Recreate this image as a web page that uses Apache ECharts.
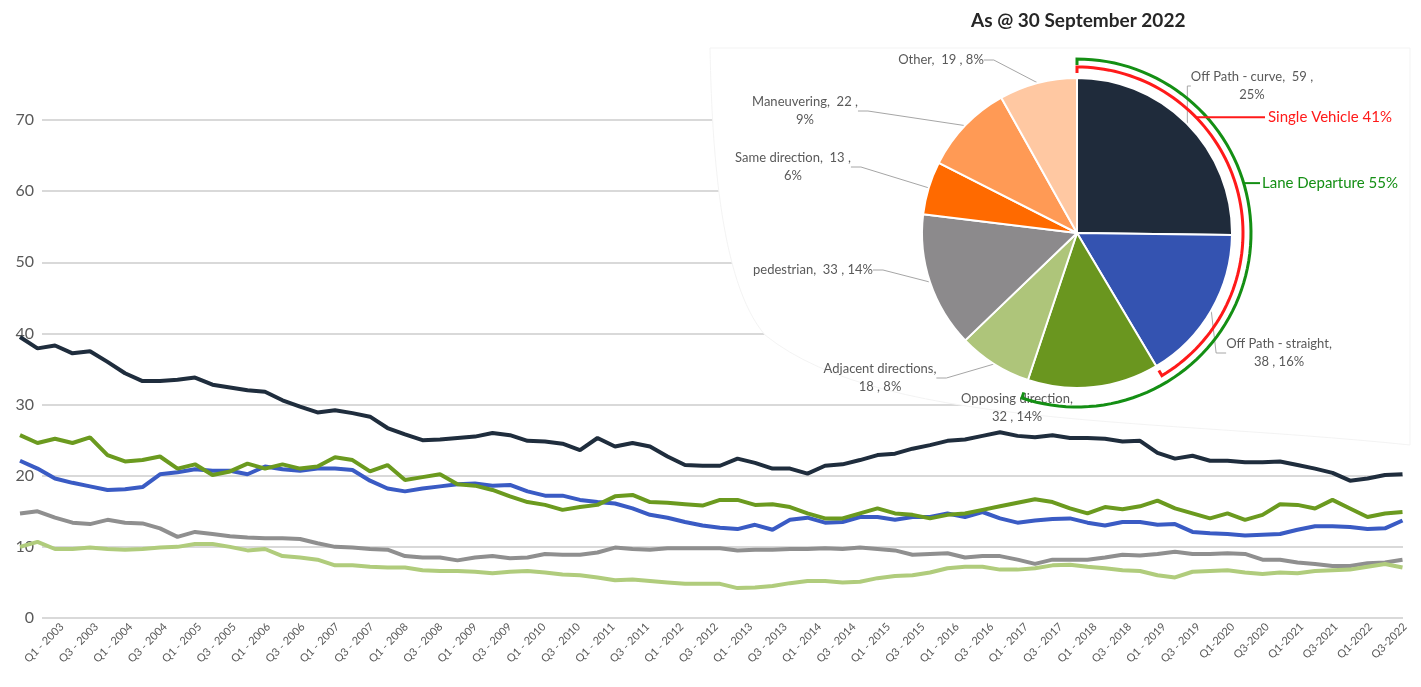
<!DOCTYPE html>
<html>
<head>
<meta charset="utf-8">
<title>Fatalities by crash type</title>
<script src="https://cdn.jsdelivr.net/npm/echarts@6/dist/echarts.min.js"></script>
<style>
    html, body { margin: 0; padding: 0; background: #fff; }
    #container { width: 1421px; height: 687px; }
</style>
</head>
<body>
<div id="container"></div>
<script>
// quarterly points, Q4 2002 .. Q3 2022
var quarters = [];
for (var q = 0; q < 80; q++) {
    var k = q + 3; // Q4 2002 is the first one
    quarters.push('Q' + (k % 4 + 1) + ' - ' + (2002 + Math.floor(k / 4)));
}

var tickLabels = [
    'Q1 - 2003', 'Q3 - 2003', 'Q1 - 2004', 'Q3 - 2004', 'Q1 - 2005', 'Q3 - 2005',
    'Q1 - 2006', 'Q3 - 2006', 'Q1 - 2007', 'Q3 - 2007', 'Q1 - 2008', 'Q3 - 2008',
    'Q1 - 2009', 'Q3 - 2009', 'Q1 - 2010', 'Q3 - 2010', 'Q1 - 2011', 'Q3 - 2011',
    'Q1 - 2012', 'Q3 - 2012', 'Q1 - 2013', 'Q3 - 2013', 'Q1 - 2014', 'Q3 - 2014',
    'Q1 - 2015', 'Q3 - 2015', 'Q1 - 2016', 'Q3 - 2016', 'Q1 - 2017', 'Q3 - 2017',
    'Q1 - 2018', 'Q3 - 2018', 'Q1 - 2019', 'Q3 - 2019', 'Q1-2020', 'Q3-2020',
    'Q1-2021', 'Q3-2021', 'Q1-2022', 'Q3-2022'
];

var offPathCurve = [
    39.5, 37.9, 38.3, 37.2, 37.5, 36.0, 34.4, 33.3, 33.3, 33.5,
    33.8, 32.8, 32.4, 32.0, 31.8, 30.6, 29.7, 28.9, 29.2, 28.8,
    28.3, 26.7, 25.8, 25.0, 25.1, 25.3, 25.5, 26.0, 25.7, 24.9,
    24.8, 24.5, 23.6, 25.3, 24.1, 24.6, 24.1, 22.7, 21.5, 21.4,
    21.4, 22.4, 21.8, 21.0, 21.0, 20.3, 21.4, 21.6, 22.2, 22.9,
    23.1, 23.8, 24.3, 24.9, 25.1, 25.6, 26.1, 25.6, 25.4, 25.7,
    25.3, 25.3, 25.2, 24.8, 24.9, 23.2, 22.4, 22.8, 22.1, 22.1,
    21.9, 21.9, 22.0, 21.5, 21.0, 20.4, 19.3, 19.6, 20.1, 20.2
];
var offPathStraight = [
    22.1, 21.0, 19.6, 19.0, 18.5, 18.0, 18.1, 18.4, 20.2, 20.5,
    20.9, 20.7, 20.7, 20.2, 21.3, 20.9, 20.7, 21.0, 21.0, 20.8,
    19.3, 18.2, 17.8, 18.2, 18.5, 18.8, 18.9, 18.6, 18.7, 17.8,
    17.2, 17.2, 16.6, 16.3, 16.1, 15.4, 14.5, 14.1, 13.5, 13.0,
    12.7, 12.5, 13.1, 12.4, 13.8, 14.1, 13.4, 13.5, 14.2, 14.2,
    13.8, 14.2, 14.2, 14.7, 14.2, 14.9, 14.0, 13.4, 13.7, 13.9,
    14.0, 13.4, 13.0, 13.5, 13.5, 13.1, 13.2, 12.1, 11.9, 11.8,
    11.6, 11.7, 11.8, 12.4, 12.9, 12.9, 12.8, 12.5, 12.6, 13.7
];
var opposing = [
    25.7, 24.6, 25.2, 24.6, 25.4, 22.9, 22.0, 22.2, 22.7, 21.0,
    21.6, 20.1, 20.6, 21.7, 21.0, 21.6, 21.0, 21.3, 22.6, 22.2,
    20.6, 21.5, 19.4, 19.8, 20.2, 18.8, 18.6, 18.0, 17.1, 16.3,
    15.9, 15.2, 15.6, 15.9, 17.1, 17.3, 16.3, 16.2, 16.0, 15.8,
    16.6, 16.6, 15.9, 16.0, 15.6, 14.7, 14.0, 14.0, 14.7, 15.4,
    14.7, 14.5, 14.0, 14.5, 14.7, 15.2, 15.7, 16.2, 16.7, 16.3,
    15.4, 14.7, 15.6, 15.3, 15.7, 16.5, 15.4, 14.7, 14.0, 14.7,
    13.8, 14.5, 16.0, 15.9, 15.4, 16.6, 15.4, 14.2, 14.7, 14.9
];
var pedestrian = [
    14.7, 15.0, 14.1, 13.4, 13.2, 13.8, 13.4, 13.3, 12.6, 11.4,
    12.1, 11.8, 11.5, 11.3, 11.2, 11.2, 11.1, 10.5, 10.0, 9.9,
    9.7, 9.6, 8.7, 8.5, 8.5, 8.1, 8.5, 8.7, 8.4, 8.5,
    9.0, 8.9, 8.9, 9.2, 9.9, 9.7, 9.6, 9.8, 9.8, 9.8,
    9.8, 9.5, 9.6, 9.6, 9.7, 9.7, 9.8, 9.7, 9.9, 9.7,
    9.5, 8.9, 9.0, 9.1, 8.5, 8.7, 8.7, 8.2, 7.6, 8.2,
    8.2, 8.2, 8.5, 8.9, 8.8, 9.0, 9.3, 9.0, 9.0, 9.1,
    9.0, 8.2, 8.2, 7.8, 7.6, 7.3, 7.3, 7.7, 7.8, 8.2
];
var adjacent = [
    10.0, 10.7, 9.7, 9.7, 9.9, 9.7, 9.6, 9.7, 9.9, 10.0,
    10.4, 10.4, 10.0, 9.5, 9.7, 8.7, 8.5, 8.2, 7.4, 7.4,
    7.2, 7.1, 7.1, 6.7, 6.6, 6.6, 6.5, 6.3, 6.5, 6.6,
    6.4, 6.1, 6.0, 5.7, 5.3, 5.4, 5.2, 5.0, 4.8, 4.8,
    4.8, 4.2, 4.3, 4.5, 4.9, 5.2, 5.2, 5.0, 5.1, 5.6,
    5.9, 6.0, 6.4, 7.0, 7.2, 7.2, 6.8, 6.8, 7.0, 7.4,
    7.5, 7.2, 7.0, 6.7, 6.6, 6.0, 5.7, 6.5, 6.6, 6.7,
    6.4, 6.2, 6.4, 6.3, 6.6, 6.7, 6.8, 7.2, 7.6, 7.1
];

// pie as at 30 September 2022
var pieNames = ['Off Path - curve', 'Off Path - straight', 'Opposing direction', 'Adjacent directions',
    'pedestrian', 'Same direction', 'Maneuvering', 'Other'];
var pieValues = [59, 38, 32, 18, 33, 13, 22, 19];

(function(){
    var dom = document.getElementById("container");
    var myChart = echarts.init(dom);
    var font = 'Lato, "Open Sans", sans-serif';

    var pieColors = ['#1f2b3b', '#3453b1', '#6a961f', '#aec57a', '#8c8a8c', '#ff6a00', '#ff9a55', '#ffc8a2'];
    // where each pie label sits and where its line breaks
    var pieLabelPos = [[1252, 86], [1279, 353], [1017, 408], [880, 378], [813, 270], [793, 167], [805, 111], [941, 60]];
    var pieLabelBreak = ['pct', 'name', 'name', 'name', 'none', 'pct', 'pct', 'none'];

    var cx = 1077, cy = 233, pieR = 155;
    var total = 0;
    for (var i = 0; i < pieValues.length; i++) total += pieValues[i];
    var singleVehicle = (pieValues[0] + pieValues[1]) / total;
    var laneDeparture = (pieValues[0] + pieValues[1] + pieValues[2]) / total;

    function pt(r, a) {
        return [cx + r * Math.sin(a), cy - r * Math.cos(a)];
    }
    // bracket round the pie: tick, arc, tick
    function bracket(r, rIn, frac) {
        var end = frac * Math.PI * 2;
        var pts = [pt(rIn, 0)];
        for (var s = 0; s <= 80; s++) pts.push(pt(r, end * s / 80));
        pts.push(pt(rIn, end));
        return pts;
    }
    // white backing panel behind the pie, curved lower-left edge
    function cubic(p0, p1, p2, p3, out) {
        for (var s = 1; s <= 30; s++) {
            var t = s / 30, u = 1 - t;
            out.push([
                u*u*u*p0[0] + 3*u*u*t*p1[0] + 3*u*t*t*p2[0] + t*t*t*p3[0],
                u*u*u*p0[1] + 3*u*u*t*p1[1] + 3*u*t*t*p2[1] + t*t*t*p3[1]
            ]);
        }
    }
    var panel = [[710, 48], [1410, 48], [1410, 445]];
    cubic([1410, 445], [1150, 418], [880, 428], [765, 335], panel);
    cubic([765, 335], [722, 285], [712, 160], [710, 48], panel);

    var redA = 0.8, greenA = 1.28;
    var redP = pt(166, redA), greenP = pt(174, greenA);

    var pieData = [];
    for (var j = 0; j < pieNames.length; j++) {
        var item = { name: pieNames[j], value: pieValues[j], itemStyle: { color: pieColors[j] } };
        if (j === 2) item.labelLine = { show: false };
        pieData.push(item);
    }

    function lineSeries(name, data, color) {
        return {
            name: name, type: 'line', xAxisIndex: 0, yAxisIndex: 0,
            data: data, symbol: 'none', smooth: false,
            lineStyle: { color: color, width: 4 },
            itemStyle: { color: color },
            z: 3
        };
    }

    var option = {
        animation: false,
        title: {
            text: 'As @ 30 September 2022',
            left: 966, top: 6,
            textStyle: { fontFamily: font, fontSize: 19, fontWeight: 'bold', color: '#262626' }
        },
        grid: [
            { left: 20, right: 18.5, top: 120, bottom: 69 },
            { left: 42, right: 18, top: 120, bottom: 69 },
            { left: 62, right: 16, top: 120, bottom: 69 }
        ],
        xAxis: [
            { gridIndex: 0, type: 'category', data: quarters, boundaryGap: false, show: false },
            { gridIndex: 1, type: 'category', data: tickLabels, show: false },
            {
                gridIndex: 2, type: 'category', data: tickLabels, boundaryGap: false,
                axisLine: { show: false }, axisTick: { show: false },
                axisLabel: { interval: 0, rotate: 45, margin: 7, fontSize: 11, color: '#595959', fontFamily: font }
            }
        ],
        yAxis: [
            { gridIndex: 0, type: 'value', min: 0, max: 70, show: false },
            {
                gridIndex: 1, type: 'value', min: 0, max: 70, interval: 10,
                axisLine: { show: false }, axisTick: { show: false },
                axisLabel: { margin: 8, fontSize: 16, color: '#595959', fontFamily: font },
                splitLine: { lineStyle: { color: '#d9d9d9', width: 2 } }
            },
            { gridIndex: 2, type: 'value', show: false }
        ],
        graphic: {
            elements: [
                {
                    type: 'polygon', z: 1, silent: true,
                    shape: { points: panel },
                    style: { fill: '#fff', stroke: '#f3f3f3', lineWidth: 1 }
                },
                {
                    type: 'polyline', z: 10, silent: true,
                    shape: { points: bracket(174, 168, laneDeparture) },
                    style: { fill: null, stroke: '#148f14', lineWidth: 3 }
                },
                {
                    type: 'polyline', z: 10, silent: true,
                    shape: { points: bracket(166, 160, singleVehicle) },
                    style: { fill: null, stroke: '#ff1a1a', lineWidth: 3 }
                },
                {
                    type: 'line', z: 10, silent: true,
                    shape: { x1: redP[0], y1: redP[1], x2: 1265, y2: redP[1] },
                    style: { stroke: '#ff1a1a', lineWidth: 2 }
                },
                {
                    type: 'line', z: 10, silent: true,
                    shape: { x1: greenP[0], y1: greenP[1], x2: 1260, y2: greenP[1] },
                    style: { stroke: '#148f14', lineWidth: 2 }
                },
                {
                    type: 'text', z: 10, x: 1268, y: redP[1],
                    style: {
                        text: 'Single Vehicle ' + Math.round(singleVehicle * 100) + '%',
                        fill: '#ff1a1a', fontSize: 15, fontFamily: font,
                        verticalAlign: 'middle', align: 'left'
                    }
                },
                {
                    type: 'text', z: 10, x: 1262, y: greenP[1],
                    style: {
                        text: 'Lane Departure ' + Math.round(laneDeparture * 100) + '%',
                        fill: '#148f14', fontSize: 15, fontFamily: font,
                        verticalAlign: 'middle', align: 'left'
                    }
                }
            ]
        },
        series: [
            lineSeries('Off Path - curve', offPathCurve, '#1f2d3d'),
            lineSeries('Off Path - straight', offPathStraight, '#3a5bc4'),
            lineSeries('Opposing direction', opposing, '#6b9a1f'),
            lineSeries('pedestrian', pedestrian, '#8f8f8f'),
            lineSeries('Adjacent directions', adjacent, '#b0cc7c'),
            {
                type: 'pie',
                center: [cx, cy],
                radius: pieR,
                startAngle: 90,
                clockwise: true,
                z: 5,
                data: pieData,
                itemStyle: { borderColor: '#fff', borderWidth: 2 },
                label: {
                    color: '#595959', fontSize: 13, lineHeight: 18, fontFamily: font,
                    formatter: function(p) {
                        var pct = Math.round(p.percent) + '%';
                        var b = pieLabelBreak[p.dataIndex];
                        if (b === 'pct') return p.name + ',  ' + p.value + ' ,\n' + pct;
                        if (b === 'name') return p.name + ',\n' + p.value + ' , ' + pct;
                        return p.name + ',  ' + p.value + ' , ' + pct;
                    }
                },
                labelLine: { length: 10, length2: 10, lineStyle: { color: '#a6a6a6', width: 1 } },
                labelLayout: function(params) {
                    var p = pieLabelPos[params.dataIndex];
                    return { x: p[0], y: p[1], align: 'center', verticalAlign: 'middle' };
                }
            }
        ]
    };

    myChart.setOption(option, true);
    window.onresize = myChart.resize;
}());
</script>
</body>
</html>
